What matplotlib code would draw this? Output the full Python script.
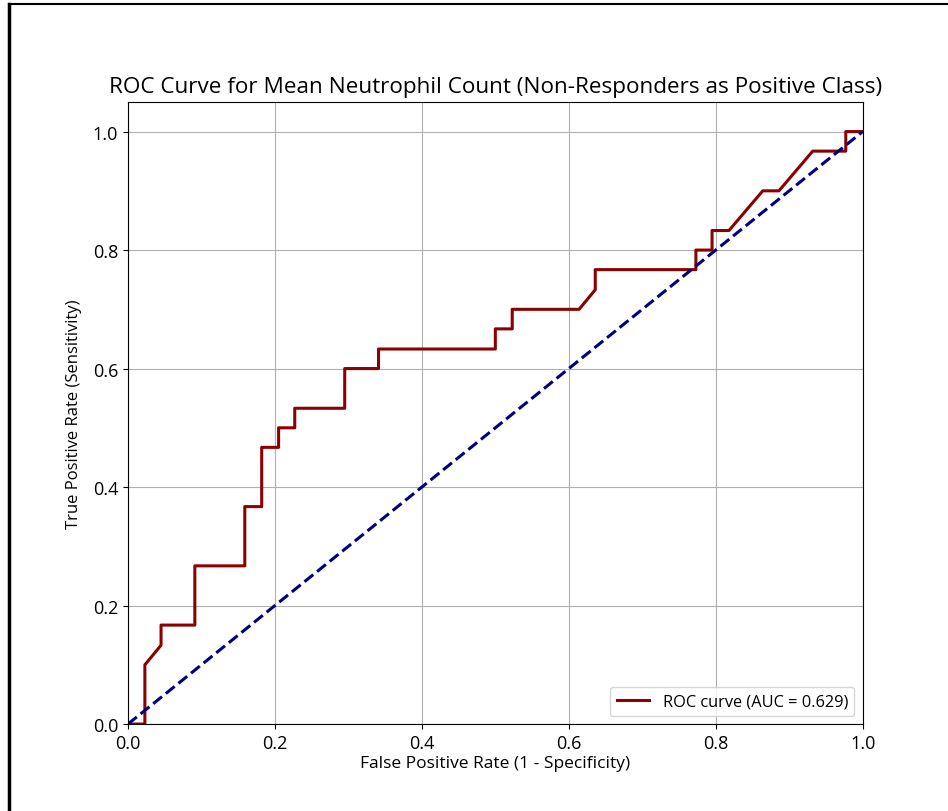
import matplotlib
matplotlib.use("Agg")
import matplotlib.pyplot as plt
from matplotlib.lines import Line2D

plt.rcParams['font.family'] = ['Open Sans', 'DejaVu Sans']

# ROC points (44 negatives, 30 positives)
fpr = [0.0, 0.023, 0.023, 0.045, 0.045, 0.091, 0.091, 0.159, 0.159, 0.182,
       0.182, 0.205, 0.205, 0.227, 0.227, 0.295, 0.295, 0.341, 0.341, 0.5,
       0.5, 0.523, 0.523, 0.614, 0.636, 0.636, 0.773, 0.773, 0.795, 0.795,
       0.818, 0.864, 0.886, 0.932, 0.977, 0.977, 1.0]
tpr = [0.0, 0.0, 0.1, 0.133, 0.167, 0.167, 0.267, 0.267, 0.367, 0.367,
       0.467, 0.467, 0.5, 0.5, 0.533, 0.533, 0.6, 0.6, 0.633, 0.633,
       0.667, 0.667, 0.7, 0.7, 0.733, 0.767, 0.767, 0.8, 0.8, 0.833,
       0.833, 0.9, 0.9, 0.967, 0.967, 1.0, 1.0]
auc_value = 0.629

fig = plt.figure(figsize=(9.48, 8.12), dpi=100)
ax = fig.add_axes([0.135, 0.1071, 0.775, 0.7661])

ax.plot(fpr, tpr, color='darkred', lw=2.2, label=f'ROC curve (AUC = {auc_value:.3f})')
ax.plot([0, 1], [0, 1], color='navy', lw=2.2, linestyle='--')

ax.set_xlim(0.0, 1.0)
ax.set_ylim(0.0, 1.05)
ax.set_xticks([0.0, 0.2, 0.4, 0.6, 0.8, 1.0])
ax.set_yticks([0.0, 0.2, 0.4, 0.6, 0.8, 1.0])
ax.tick_params(labelsize=13)
ax.set_xlabel('False Positive Rate (1 - Specificity)', fontsize=12.5, labelpad=2)
ax.set_ylabel('True Positive Rate (Sensitivity)', fontsize=12, labelpad=8)
ax.set_title('ROC Curve for Mean Neutrophil Count (Non-Responders as Positive Class)',
             fontsize=16.2, pad=7)
ax.grid(True, color='#b0b0b0', lw=0.8)
ax.legend(loc='lower right', fontsize=11.8)

# screenshot frame (top and left edge)
fig.add_artist(Line2D([9 / 948, 1.0], [1 - 5 / 812, 1 - 5 / 812], color='black', lw=1.5,
                      transform=fig.transFigure))
fig.add_artist(Line2D([9 / 948, 9 / 948], [0.0, 1 - 5 / 812], color='black', lw=2.5,
                      transform=fig.transFigure))

fig.savefig('out.png', dpi=100)
